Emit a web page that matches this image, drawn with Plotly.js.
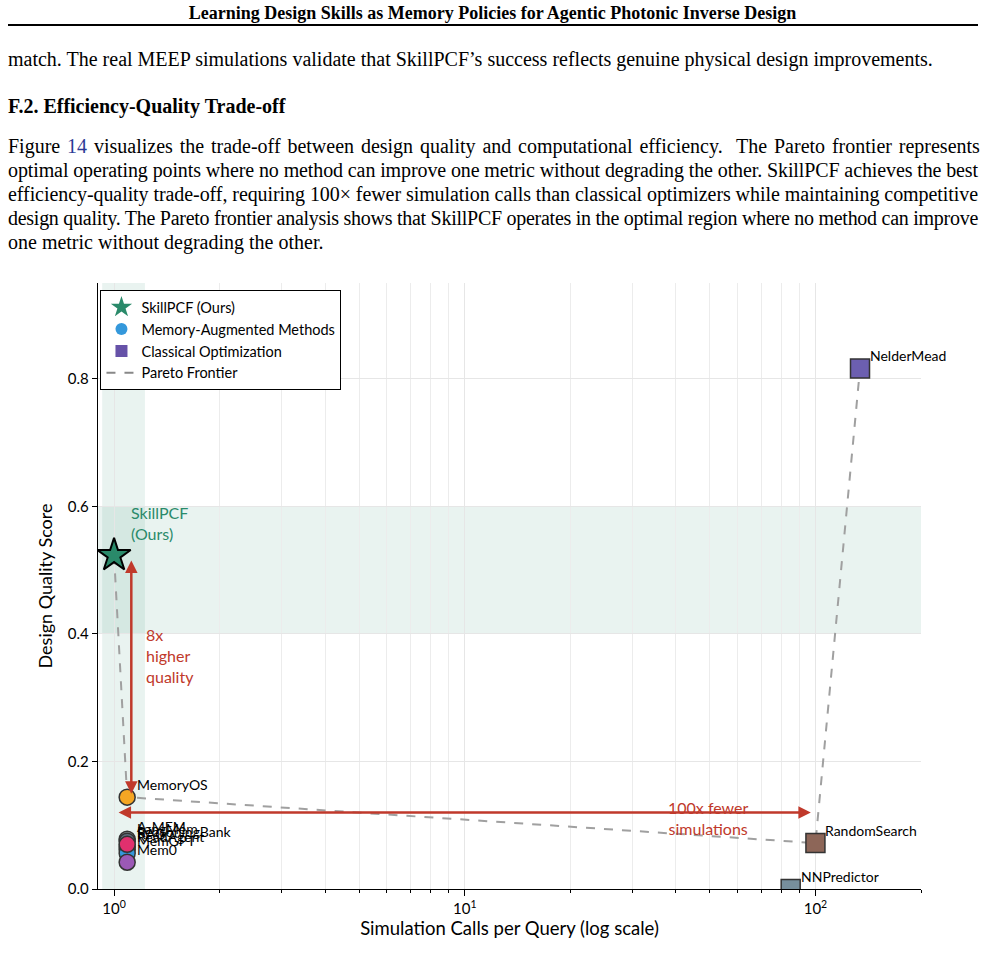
<!DOCTYPE html>
<html><head><meta charset="utf-8">
<script src="https://cdn.plot.ly/plotly-3.0.1.min.js"></script>
<style>
html,body{margin:0;padding:0;background:#fff;}
body{width:985px;height:961px;overflow:hidden;position:relative;font-family:"Liberation Serif","Times New Roman",serif;color:#000;}
.t{position:absolute;left:8px;white-space:nowrap;font-size:20px;line-height:24px;}
.hdr{position:absolute;left:0;width:985px;top:3px;text-align:center;font-weight:bold;font-size:18px;line-height:20px;}
.rule{position:absolute;left:8px;width:970px;top:24px;height:2px;background:#000;}
.ref{color:#2b3a96;}
#chart{position:absolute;left:0;top:270px;width:985px;height:690px;}
</style>
</head><body>
<div class="hdr">Learning Design Skills as Memory Policies for Agentic Photonic Inverse Design</div>
<div class="rule"></div>
<div class="t" style="top:47px">match. The real MEEP simulations validate that SkillPCF’s success reflects genuine physical design improvements.</div>
<div class="t" style="top:94px;font-weight:bold">F.2. Efficiency-Quality Trade-off</div>
<div class="t j" style="top:134px">Figure <span class="ref">14</span> visualizes the trade-off between design quality and computational efficiency.&nbsp; The Pareto frontier represents</div>
<div class="t j" style="top:158px">optimal operating points where no method can improve one metric without degrading the other. SkillPCF achieves the best</div>
<div class="t j" style="top:182px">efficiency-quality trade-off, requiring 100× fewer simulation calls than classical optimizers while maintaining competitive</div>
<div class="t j" style="top:206px">design quality. The Pareto frontier analysis shows that SkillPCF operates in the optimal region where no method can improve</div>
<div class="t" style="top:230px">one metric without degrading the other.</div>
<div id="chart"></div>
<script>
// justify lines to full text width
document.querySelectorAll('.j').forEach(function(el){
  var target = 970;
  var w = el.getBoundingClientRect().width;
  var spaces = (el.textContent.match(/ /g) || []).length;
  if (w > target) { el.style.letterSpacing = ((target - w) / el.textContent.length) + 'px'; w = el.getBoundingClientRect().width; }
  if (spaces > 0) el.style.wordSpacing = ((target - w) / spaces) + 'px';
});

// ---------------- data ----------------
const oursName = "SkillPCF";
const oursCalls = [1.0];
const oursQuality = [0.523];

const memNames   = ["MemoryOS", "A-MEM", "LangMem", "RAG", "ReadAgent", "MemGPT", "ReasoningBank", "Mem0"];
const memCalls   = [1.09, 1.09, 1.09, 1.09, 1.09, 1.09, 1.09, 1.09];
const memQuality = [0.144, 0.078, 0.075, 0.066, 0.062, 0.056, 0.070, 0.042];
const memColors  = ["#f5a623", "#8a9597", "#5d6d7e", "#16a085", "#27ae60", "#3498db", "#e0306e", "#9b59b6"];

const clsNames   = ["NelderMead", "RandomSearch", "NNPredictor"];
const clsCalls   = [134, 100, 85];
const clsQuality = [0.816, 0.072, 0.0];
const clsColors  = ["#6c5fb0", "#8d6658", "#778f9c"];

const paretoNames = ["SkillPCF", "MemoryOS", "RandomSearch", "NelderMead"];

const xRange = [0.9, 200];
const yRange = [0, 0.95];
const majorTicks = [1, 10, 100];
const majorTickText = ["10<sup>0</sup>", "10<sup>1</sup>", "10<sup>2</sup>"];
const minorTicks = [2, 3, 4, 5, 6, 7, 8, 9, 20, 30, 40, 50, 60, 70, 80, 90, 200];
const yTicks = [0.0, 0.2, 0.4, 0.6, 0.8];

const qualityArrow = {x: 1.12, yFrom: 0.147, yTo: 0.515};
const callsArrow = {y: 0.12, xFrom: 98, xTo: 1.03};
const goodBandQuality = [0.4, 0.6];
const goodBandCalls = [0.925, 1.225];

// ---------------- build ----------------
const allNames = [oursName].concat(memNames, clsNames);
const allCalls = oursCalls.concat(memCalls, clsCalls);
const allQuality = oursQuality.concat(memQuality, clsQuality);
const px = [], py = [];
paretoNames.forEach(function(n){ const i = allNames.indexOf(n); px.push(allCalls[i]); py.push(allQuality[i]); });

const FONT = "Lato, 'Open Sans', sans-serif";
const RED = "#c0392b";
const GREEN = "#2a8a6a";

const traces = [
  {type:'scatter', mode:'lines', x:px, y:py, showlegend:false, hoverinfo:'skip',
   line:{color:'#a0a0a0', width:2, dash:'dash'}},
  {type:'scatter', mode:'markers', x:memCalls, y:memQuality, showlegend:false,
   marker:{symbol:'circle', size:16, color:memColors, line:{color:'#333333', width:1.5}}},
  {type:'scatter', mode:'markers', x:clsCalls, y:clsQuality, showlegend:false,
   marker:{symbol:'square', size:19, color:clsColors, line:{color:'#333333', width:1.5}}},
  {type:'scatter', mode:'markers', x:oursCalls, y:oursQuality, showlegend:false,
   marker:{symbol:'star', size:25, color:GREEN, line:{color:'#000000', width:2}}},
  // legend entries
  {type:'scatter', mode:'markers', x:[null], y:[null], name:'SkillPCF (Ours)',
   marker:{symbol:'star', size:16, color:GREEN}},
  {type:'scatter', mode:'markers', x:[null], y:[null], name:'Memory-Augmented Methods',
   marker:{symbol:'circle', size:12, color:'#3498db'}},
  {type:'scatter', mode:'markers', x:[null], y:[null], name:'Classical Optimization',
   marker:{symbol:'square', size:12, color:'#6652a8'}},
  {type:'scatter', mode:'lines', x:[null], y:[null], name:'Pareto Frontier',
   line:{color:'#888888', width:2, dash:'dash'}}
];

const annotations = [];
allNames.forEach(function(n, i){
  if (n === oursName) return;
  annotations.push({x:Math.log10(allCalls[i]), y:allQuality[i], text:n, showarrow:false,
    xanchor:'left', yanchor:'middle', xshift:8, yshift:13, font:{family:FONT, size:14, color:'#000'}});
});
annotations.push({x:Math.log10(qualityArrow.x), y:qualityArrow.yTo, ax:Math.log10(qualityArrow.x), ay:qualityArrow.yFrom,
  xref:'x', yref:'y', axref:'x', ayref:'y', text:'', showarrow:true, arrowhead:2, arrowsize:1, arrowwidth:2.5,
  arrowcolor:RED, arrowside:'end+start', standoff:0, startstandoff:0});
annotations.push({x:Math.log10(callsArrow.xTo), y:callsArrow.y, ax:Math.log10(callsArrow.xFrom), ay:callsArrow.y,
  xref:'x', yref:'y', axref:'x', ayref:'y', text:'', showarrow:true, arrowhead:2, arrowsize:1, arrowwidth:2.5,
  arrowcolor:RED, arrowside:'end+start', standoff:0, startstandoff:0});
annotations.push({x:Math.log10(1.1), y:0.573, text:'SkillPCF<br>(Ours)', showarrow:false, xanchor:'left', yanchor:'middle',
  align:'left', font:{family:FONT, size:16, color:GREEN}});
annotations.push({x:Math.log10(1.22), y:0.366, text:'8x<br>higher<br>quality', showarrow:false, xanchor:'left', yanchor:'middle',
  align:'left', font:{family:FONT, size:16, color:RED}});
annotations.push({x:Math.log10(49.5), y:0.111, text:'100x fewer<br>simulations', showarrow:false, xanchor:'center', yanchor:'middle',
  align:'center', font:{family:FONT, size:16, color:RED}});

const shapes = [
  {type:'rect', xref:'paper', yref:'y', x0:0, x1:1, y0:goodBandQuality[0], y1:goodBandQuality[1],
   fillcolor:'rgba(42,138,106,0.10)', line:{width:0}, layer:'below'},
  {type:'rect', xref:'x', yref:'paper', x0:goodBandCalls[0], x1:goodBandCalls[1], y0:0, y1:1,
   fillcolor:'rgba(42,138,106,0.10)', line:{width:0}, layer:'below'}
];

const layout = {
  width:985, height:690,
  margin:{l:98, r:64, t:13, b:71},
  paper_bgcolor:'#ffffff', plot_bgcolor:'#ffffff',
  font:{family:FONT, size:15, color:'#000'},
  showlegend:true,
  legend:{x:0.003, y:0.988, xanchor:'left', yanchor:'top', bgcolor:'#ffffff', bordercolor:'#000', borderwidth:1,
    font:{family:FONT, size:14.5, color:'#000'}},
  xaxis:{type:'log', range:[Math.log10(xRange[0]), Math.log10(xRange[1])],
    tickmode:'array', tickvals:majorTicks, ticktext:majorTickText,
    ticks:'outside', ticklen:6, tickwidth:1, tickcolor:'#000',
    showline:true, linecolor:'#000', linewidth:1.2, mirror:false, zeroline:false,
    showgrid:true, gridcolor:'#e6e6e6', gridwidth:1,
    minor:{tickmode:'array', tickvals:minorTicks, ticks:'outside', ticklen:3, tickcolor:'#000', showgrid:true, gridcolor:'#ececec', gridwidth:1},
    tickfont:{family:FONT, size:15},
    title:{text:'Simulation Calls per Query (log scale)', font:{family:FONT, size:18.5}, standoff:4}},
  yaxis:{range:yRange, tickmode:'array', tickvals:yTicks, tickformat:'.1f',
    ticks:'outside', ticklen:5, tickwidth:1, tickcolor:'#000',
    showline:true, linecolor:'#000', linewidth:1.2, zeroline:false,
    showgrid:true, gridcolor:'#e6e6e6', gridwidth:1,
    tickfont:{family:FONT, size:15},
    title:{text:'Design Quality Score', font:{family:FONT, size:18}, standoff:10}},
  annotations:annotations,
  shapes:shapes
};

Plotly.newPlot('chart', traces, layout, {displayModeBar:false, staticPlot:true});
</script>
</body></html>
